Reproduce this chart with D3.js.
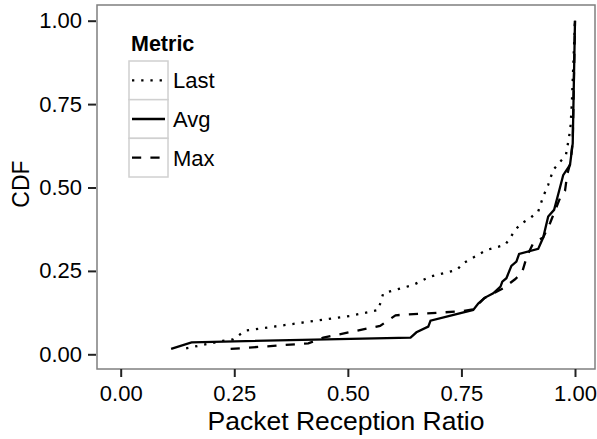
<!DOCTYPE html>
<html>

<head>
    <script src="https://cdnjs.cloudflare.com/ajax/libs/d3/7.8.5/d3.min.js"></script>
    <style>
        body {
            margin: 0;
            background: white;
        }

        text {
            font-family: 'Liberation Sans', Arial, sans-serif;
        }
    </style>
</head>

<body>
    <div id="root"></div>
    <script>
        // values
        const lastX = [0.144, 0.224, 0.248, 0.274, 0.505, 0.567, 0.578, 0.644, 0.681, 0.740, 0.754, 0.806, 0.846, 0.857, 0.868, 0.883, 0.901, 0.919, 0.930, 0.941, 0.952, 0.967, 0.980, 0.987, 0.990, 0.993, 1.0]
        const lastY = [0.018, 0.040, 0.045, 0.071, 0.115, 0.133, 0.183, 0.208, 0.233, 0.253, 0.273, 0.313, 0.328, 0.348, 0.373, 0.393, 0.408, 0.428, 0.473, 0.508, 0.553, 0.577, 0.597, 0.652, 0.680, 0.750, 1.0]

        const avgX = [0.111, 0.156, 0.638, 0.651, 0.677, 0.682, 0.776, 0.787, 0.802, 0.820, 0.836, 0.840, 0.849, 0.860, 0.871, 0.877, 0.919, 0.930, 0.941, 0.954, 0.967, 0.974, 0.989, 0.995, 1.0]
        const avgY = [0.016, 0.036, 0.050, 0.066, 0.083, 0.101, 0.133, 0.152, 0.170, 0.183, 0.203, 0.218, 0.228, 0.265, 0.278, 0.301, 0.316, 0.350, 0.413, 0.433, 0.500, 0.537, 0.568, 0.632, 1.0]

        const maxX = [0.242, 0.413, 0.446, 0.571, 0.605, 0.751, 0.776, 0.800, 0.842, 0.868, 0.883, 0.894, 0.908, 0.930, 0.945, 0.967, 0.978, 0.983, 0.990, 0.995, 1.0]
        const maxY = [0.016, 0.033, 0.050, 0.085, 0.117, 0.129, 0.135, 0.168, 0.198, 0.225, 0.243, 0.293, 0.333, 0.350, 0.393, 0.468, 0.490, 0.540, 0.575, 0.640, 1.0]

        const metrics = ['Last', 'Avg', 'Max']
        const tickVals = [0, 0.25, 0.5, 0.75, 1]
        const tickLabels = ['0.00', '0.25', '0.50', '0.75', '1.00']

        const w = 597
        const h = 439
        const lw = 2.3
        const dashes = { Last: `${lw} ${lw * 3}`, Avg: null, Max: `${lw * 4} ${lw * 4}` }

        const series = [
            { name: 'Last', pts: lastX.map((x, i) => [x, lastY[i]]) },
            { name: 'Avg', pts: avgX.map((x, i) => [x, avgY[i]]) },
            { name: 'Max', pts: maxX.map((x, i) => [x, maxY[i]]) }
        ]

        // panel
        const px0 = 97, px1 = 595, py0 = 5, py1 = 369
        const x = d3.scaleLinear().domain([0, 1]).range([120.7, 575])
        const y = d3.scaleLinear().domain([0, 1]).range([354.3, 20.7])

        const svg = d3.select('#root')
            .append('svg')
            .attr('width', w)
            .attr('height', h)

        svg.append('rect')
            .attr('x', px0)
            .attr('y', py0)
            .attr('width', px1 - px0)
            .attr('height', py1 - py0)
            .attr('fill', 'white')
            .attr('stroke', '#7f7f7f')
            .attr('stroke-width', 1.5)

        const line = d3.line().x(d => x(d[0])).y(d => y(d[1]))

        svg.selectAll('path.series')
            .data(series)
            .enter()
            .append('path')
            .attr('class', 'series')
            .attr('d', d => line(d.pts))
            .attr('fill', 'none')
            .attr('stroke', 'black')
            .attr('stroke-width', lw)
            .attr('stroke-dasharray', d => dashes[d.name])

        // axes
        const xAxis = d3.axisBottom(x).tickValues(tickVals).tickFormat((d, i) => tickLabels[i]).tickSize(8).tickPadding(8)
        const yAxis = d3.axisLeft(y).tickValues(tickVals).tickFormat((d, i) => tickLabels[i]).tickSize(8).tickPadding(6)

        const gx = svg.append('g').attr('transform', `translate(0,${py1})`).call(xAxis)
        const gy = svg.append('g').attr('transform', `translate(${px0 - 1},0)`).call(yAxis)
        for (const g of [gx, gy]) {
            g.select('.domain').remove()
            g.selectAll('.tick line').attr('stroke', '#222').attr('stroke-width', 2)
            g.selectAll('.tick text').attr('fill', 'black').attr('font-size', 22).attr('font-family', 'Liberation Sans, Arial, sans-serif')
        }

        svg.append('text')
            .attr('x', (px0 + px1) / 2)
            .attr('y', 430)
            .attr('text-anchor', 'middle')
            .attr('font-size', 26.5)
            .text('Packet Reception Ratio')

        svg.append('text')
            .attr('transform', `translate(28.5,${(py0 + py1) / 2 - 3}) rotate(-90)`)
            .attr('text-anchor', 'middle')
            .attr('font-size', 23)
            .text('CDF')

        // legend
        const leg = svg.append('g')
        leg.append('text')
            .attr('x', 131)
            .attr('y', 51)
            .attr('font-size', 21.5)
            .attr('font-weight', 'bold')
            .text('Metric')

        const keyY = d3.scaleBand().domain(metrics).range([61, 177]).padding(0)
        const keys = leg.selectAll('g.key')
            .data(metrics)
            .enter()
            .append('g')
            .attr('class', 'key')
            .attr('transform', d => `translate(129,${keyY(d)})`)

        keys.append('rect')
            .attr('width', 39)
            .attr('height', keyY.bandwidth())
            .attr('fill', 'white')
            .attr('stroke', '#d0d0d0')
            .attr('stroke-width', 1.5)

        keys.append('line')
            .attr('x1', 3)
            .attr('x2', 36)
            .attr('y1', keyY.bandwidth() / 2)
            .attr('y2', keyY.bandwidth() / 2)
            .attr('stroke', 'black')
            .attr('stroke-width', lw)
            .attr('stroke-dasharray', d => dashes[d])

        keys.append('text')
            .attr('x', 44)
            .attr('y', keyY.bandwidth() / 2)
            .attr('dy', '0.36em')
            .attr('font-size', 22)
            .text(d => d)
    </script>
</body>

</html>
